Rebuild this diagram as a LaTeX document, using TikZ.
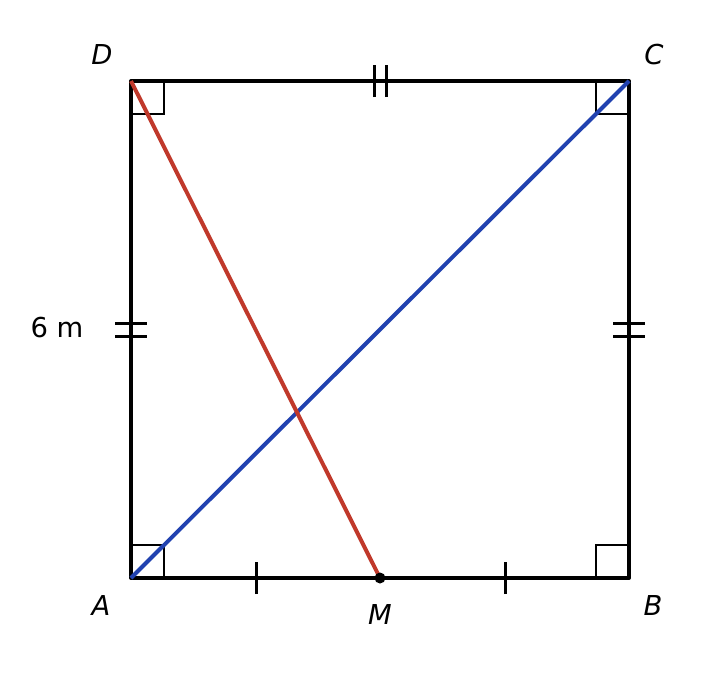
\documentclass[tikz,border=0pt]{standalone}
\usepackage{fontspec}
\setmainfont{DejaVu Sans}
\usetikzlibrary{positioning}
\definecolor{redline}{RGB}{192,57,43}
\definecolor{blueline}{RGB}{33,66,176}

\begin{document}
\begin{tikzpicture}[
            x = 0.5pt, y = 0.5pt, % one unit per pixel
            side/.style = {line width = 2pt, line cap = round, line join = round},
            rightangle/.style = {line width = 1.4pt},
            tick/.style = {line width = 1.5pt},
            diag/.style = {line width = 2pt},
            label/.style = {font = \fontsize{13.7}{16}\selectfont\itshape, inner sep = 0pt},
            plain/.style = {font = \fontsize{13.7}{16}\selectfont, inner sep = 0pt}
        ]

        \useasboundingbox (0,0) rectangle (727,677);

        % corners of the square
        \coordinate (A) at (131,99);
        \coordinate (B) at (629,99);
        \coordinate (C) at (629,596);
        \coordinate (D) at (131,596);
        \coordinate (M) at (380,99);

        % right angle marks
        \draw[rightangle] (131,132) -| (164,99);
        \draw[rightangle] (596,99) |- (629,132);
        \draw[rightangle] (596,596) |- (629,563);
        \draw[rightangle] (131,563) -| (164,596);

        % sides
        \draw[side] (A) -- (B) -- (C) -- (D) -- cycle;

        % diagonals
        \draw[diag, blueline] (A) -- (C);
        \draw[diag, redline] (D) -- (M);

        % ticks on AB
        \draw[tick] (256,83) -- (256,115);
        \draw[tick] (505,83) -- (505,115);
        % double ticks
        \draw[tick] (374.5,580) -- (374.5,612);
        \draw[tick] (386.5,580) -- (386.5,612);
        \draw[tick] (115,354) -- (147,354);
        \draw[tick] (115,341) -- (147,341);
        \draw[tick] (613,354) -- (645,354);
        \draw[tick] (613,341) -- (645,341);

        \fill (M) circle (5.5);

        % labels
        \node[label] (lA) at (101,71) {A};
        \node[label] (lB) at (653,71) {B};
        \node[label] (lC) at (654,622) {C};
        \node[label] (lD) at (102,622) {D};
        \node[label] (lM) at (380,62) {M};
        \node[plain] (len) at (57,349) {6 m};

  \end{tikzpicture}
\end{document}
